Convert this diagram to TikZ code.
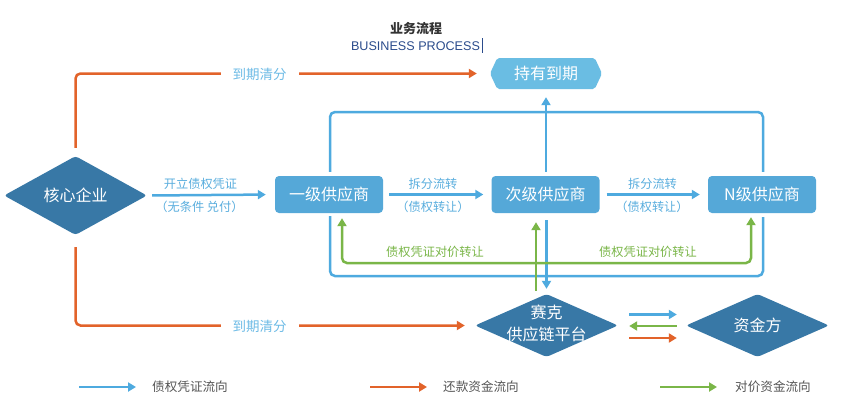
\documentclass[tikz,border=0pt]{standalone}
\usepackage{fontspec}
\setmainfont{Noto Sans CJK SC}
\newfontfamily\latinfont{Liberation Sans}
\usetikzlibrary{shapes.geometric,shapes.symbols,arrows.meta}
\definecolor{darkdia}{HTML}{3878A6}
\definecolor{boxblue}{HTML}{55A8D8}
\definecolor{hexblue}{HTML}{6ABDE3}
\definecolor{lineblue}{HTML}{4EAADF}
\definecolor{orangeline}{HTML}{E2632A}
\definecolor{greenline}{HTML}{7AB648}
\definecolor{lblblue}{HTML}{6DBBE6}
\definecolor{arrlbl}{HTML}{5AAEDE}
\definecolor{legtext}{HTML}{555555}
\definecolor{titletext}{HTML}{333333}
\definecolor{engblue}{HTML}{2B4C8C}
\begin{document}
\begin{tikzpicture}[x=1pt,y=-1pt,
  every node/.style={inner sep=0pt},
  bigtext/.style={font=\fontsize{16}{19}\selectfont},
  dia/.style={diamond, fill=darkdia, minimum width=143pt, minimum height=64pt, rounded corners=3pt, text=white, bigtext},
  box/.style={rectangle, fill=boxblue, minimum width=108pt, minimum height=37pt, rounded corners=4pt, text=white, bigtext},
  hexa/.style={signal, signal to=west and east, signal pointer angle=130, fill=hexblue, minimum width=112pt, minimum height=31pt, rounded corners=2pt, text=white, bigtext},
  tip/.style={-{Triangle[length=8pt,width=9pt]}},
  bluearrow/.style={draw=lineblue, line width=2.5pt, tip},
  orangearrow/.style={draw=orangeline, line width=2.5pt, tip},
  greenarrow/.style={draw=greenline, line width=2.5pt, tip},
  blueline/.style={draw=lineblue, line width=2.5pt},
  arrlabel/.style={text=arrlbl, font=\fontsize{12.2}{14}\selectfont},
  greenlabel/.style={text=greenline, font=\fontsize{12.2}{14}\selectfont},
  paylabel/.style={text=lblblue, fill=white, inner xsep=12pt, inner ysep=2pt, font=\fontsize{13.5}{16}\selectfont},
  legendlabel/.style={text=legtext, anchor=west, font=\fontsize{12.6}{15}\selectfont}
]
\fill[white] (0,0) rectangle (860,418);
\useasboundingbox (0,0) rectangle (860,418);

% title
\node[text=titletext, font=\fontsize{13}{15}\selectfont\bfseries] (title) at (416,29) {业务流程};
\node[text=engblue, font=\latinfont\fontsize{12.6}{15}\selectfont] (subtitle) at (415.5,46) {BUSINESS PROCESS};
\draw[engblue, line width=0.8pt] (482,38) -- (482,53);

% main nodes
\node[dia] (core) at (75.5,195.5) {核心企业};
\node[box] (one) at (329,194.5) {一级供应商};
\node[box] (two) at (545.5,194.5) {次级供应商};
\node[box] (nth) at (762,194.5) {N级供应商};
\node[hexa] (hold) at (546,73.5) {持有到期};
\node[dia, minimum height=63pt] (plat) at (546.5,325.5) {};
\node[align=center, text=white, font=\fontsize{16}{22}\selectfont] (platname) at (546.5,323) {赛克\\供应链平台};
\node[dia, minimum height=63pt] (fund) at (757.5,325.5) {资金方};

\coordinate (toprow) at (0,112);
\coordinate (botrow) at (0,276);
\coordinate (greenrow) at (0,263);

% blue flows
\draw[bluearrow, shorten <=5pt, shorten >=9pt] (core.east) -- (one.west);
\draw[bluearrow, shorten <=6pt, shorten >=8pt] (one.east) -- (two.west);
\draw[bluearrow, shorten <=7pt, shorten >=8pt] (two.east) -- (nth.west);
\draw[blueline, rounded corners=5pt, shorten <=4pt, shorten >=4pt]
  ([xshift=1pt]one.north) -- ([xshift=1pt]one.north |- toprow) -- ([xshift=1pt]nth.north |- toprow) -- ([xshift=1pt]nth.north);
\draw[blueline, rounded corners=5pt, shorten <=3pt, shorten >=4pt]
  ([xshift=1pt]one.south) -- ([xshift=1pt]one.south |- botrow) -- ([xshift=1pt]nth.south |- botrow) -- ([xshift=1pt]nth.south);
\draw[bluearrow, shorten <=4pt, shorten >=8pt] ([xshift=0.5pt]two.north) -- ([xshift=0.5pt]two.north |- hold.south);
\draw[bluearrow, shorten <=7pt, shorten >=5pt] ([xshift=1pt]two.south) -- ([xshift=1pt]two.south |- plat.north);

% green flows
\draw[greenarrow, shorten <=3pt, shorten >=9pt] ([xshift=-9.5pt]two.south |- plat.north) -- ([xshift=-9.5pt]two.south);
\draw[draw=greenline, line width=2.5pt, {Triangle[length=8pt,width=9pt]}-{Triangle[length=8pt,width=9pt]}, rounded corners=5pt, shorten <=5pt, shorten >=4pt]
  ([xshift=13pt]one.south) -- ([xshift=13pt]one.south |- greenrow) -- ([xshift=-11pt]nth.south |- greenrow) -- ([xshift=-11pt]nth.south);

% orange flows
\draw[orangearrow, rounded corners=5pt, shorten <=8pt, shorten >=13pt] (core.north) -- (core.north |- hold.west) -- (hold.west);
\draw[orangearrow, rounded corners=5pt, shorten <=12pt, shorten >=10pt] (core.south) -- (core.south |- plat.west) -- (plat.west);

% platform <-> fund
\draw[bluearrow, shorten <=11pt, shorten >=9pt] ([yshift=11pt]plat.east) -- ([yshift=11pt]fund.west);
\draw[greenarrow, shorten <=9pt, shorten >=11pt] ([yshift=-0.5pt]fund.west) -- ([yshift=-0.5pt]plat.east);
\draw[orangearrow, shorten <=11pt, shorten >=9pt] ([yshift=-12.5pt]plat.east) -- ([yshift=-12.5pt]fund.west);

% labels
\node[paylabel] (paytop) at (259.5,74) {到期清分};
\node[paylabel] (paybot) at (259.5,326) {到期清分};
\node[arrlabel] (l1a) at (200.5,183.5) {开立债权凭证};
\node[arrlabel] (l1b) at (199.5,207) {（无条件 兑付）};
\node[arrlabel] (l2a) at (433,183.5) {拆分流转};
\node[arrlabel] (l2b) at (433,207) {（债权转让）};
\node[arrlabel] (l3a) at (652.5,183.5) {拆分流转};
\node[arrlabel] (l3b) at (652,207) {（债权转让）};
\node[greenlabel] (g1) at (435,251.5) {债权凭证对价转让};
\node[greenlabel] (g2) at (648,251.5) {债权凭证对价转让};

% legend
\coordinate (lb1) at (79,387); \coordinate (lb2) at (136,387);
\coordinate (lo1) at (370,387); \coordinate (lo2) at (427,387);
\coordinate (lg1) at (660,387); \coordinate (lg2) at (717,387);
\draw[bluearrow] (lb1) -- (lb2);
\draw[orangearrow] (lo1) -- (lo2);
\draw[greenarrow] (lg1) -- (lg2);
\node[legendlabel] (leg1) at (152,387) {债权凭证流向};
\node[legendlabel] (leg2) at (443,387) {还款资金流向};
\node[legendlabel] (leg3) at (735,387) {对价资金流向};
\end{tikzpicture}
\end{document}
